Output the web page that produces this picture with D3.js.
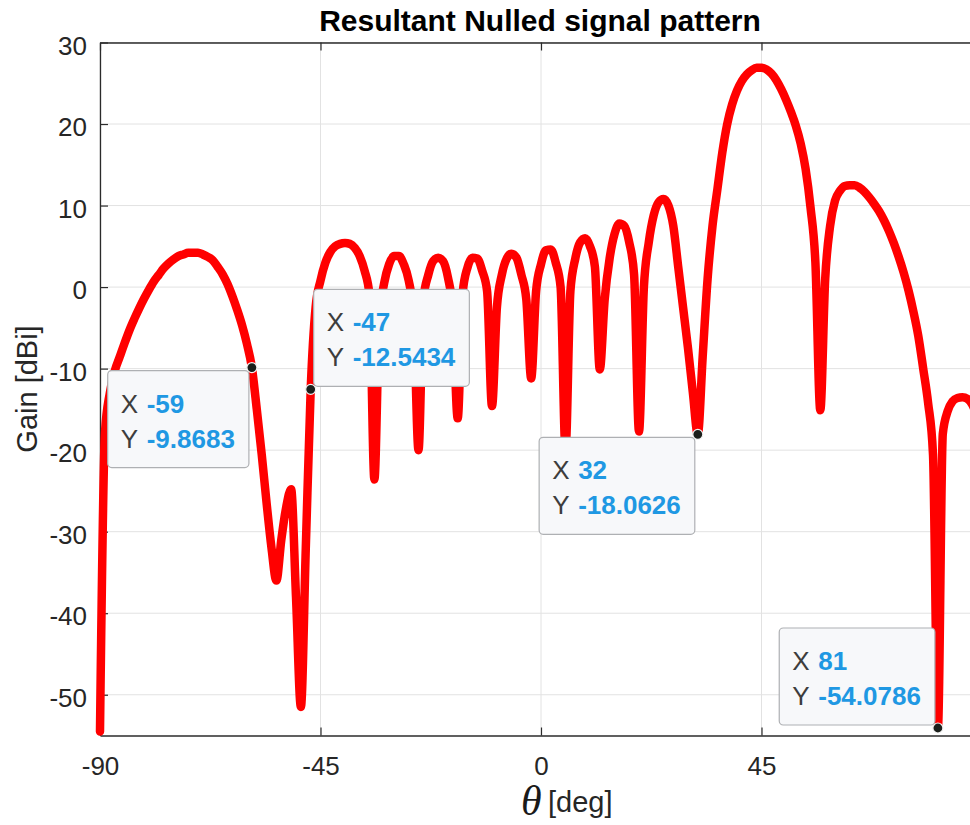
<!DOCTYPE html>
<html>
<head>
<meta charset="utf-8">
<script src="https://cdn.jsdelivr.net/npm/d3@7"></script>
<style>
    body { margin: 0; background: #fff; overflow: hidden; }
    #chart { width: 970px; height: 825px; overflow: hidden; }
    text { font-family: "Liberation Sans", Arial, Helvetica, sans-serif; }
</style>
</head>
<body>
<div id="chart"></div>
<script>
// Angles in degrees, one sample per degree
const thetaDeg = d3.range(-90, 91);

// Gain [dBi], -90 .. 90
const gainDb = [
    -54.5, -18, -13, -10.3, -8.6, -6.9, -5.3, -3.9, -2.6, -1.4,
    -0.3, 0.7, 1.5, 2.3, 2.9, 3.4, 3.8, 4.0, 4.2, 4.2,
    4.2, 4.0, 3.7, 3.3, 2.5, 1.6, 0.4, -1.1, -2.8, -4.7,
    -7.0, -9.8683, -15, -20.5, -26.5, -32, -36, -31, -27, -24.8,
    -38, -51.5, -32, -12.5434, -2.5, 0.8, 3.0, 4.3, 5.0, 5.3,
    5.4, 5.3, 4.8, 3.8, 2.0, -1.0, -23.6, -4, 0.5, 2.8,
    3.8, 3.8, 2.8, 0.8, -3.5, -20, -1.5, 1.5, 3.2, 3.6,
    3.2, 1.2, -3, -16.1, -0.8, 2.4, 3.6, 3.5, 2.0, -0.5,
    -14.6, -2.5, 1.5, 3.5, 4.1, 3.6, 1.5, -1.5, -11.2, -0.5,
    2.8, 4.5, 4.6, 3.0, 0.0, -20, -0.5, 3.5, 5.5, 6.0,
    5.0, 2.5, -10.1, -1.5, 3.5, 6.5, 7.8, 7.5, 5.5, 1.5,
    -17.7, 0.0, 5.5, 8.8, 10.4, 10.8, 10.0, 7.5, 2.5, -2.5,
    -7.5, -13, -18.0626, -8.5, 1.0, 7.5, 12, 16.5, 20, 22.4,
    24.1, 25.3, 26.1, 26.6, 26.9, 26.9, 26.7, 26.2, 25.4, 24.3,
    23.0, 21.5, 19.8, 17.6, 14.5, 9.8, 3.0, -15.1, 1.0, 7.5,
    10.6, 11.8, 12.4, 12.5, 12.5, 12.2, 11.7, 11.0, 10.2, 9.3,
    8.2, 6.9, 5.4, 3.7, 1.8, -0.4, -3.0, -6.0, -10.0, -14.2,
    -20.5, -54.0786, -18, -15.2, -14.0, -13.6, -13.5, -13.7, -14.4, -16,
    -19
];

// Axis ticks
const xTicks = [-90, -45, 0, 45];
const yTicks = [30, 20, 10, 0, -10, -20, -30, -40, -50];

// Data tips shown on the plot
const tipX = [-59, -47, 32, 81];
const tipY = ['-9.8683', '-12.5434', '-18.0626', '-54.0786'];

function drawPattern() {
    const width = 990;
    const height = 825;

    d3.select('#chart').selectAll('*').remove();

    const svg = d3.select('#chart')
        .append('svg')
        .attr('width', width)
        .attr('height', height);

    const x = d3.scaleLinear().domain([-90, 90]).range([100, 982]);
    const y = d3.scaleLinear().domain([-55, 30]).range([735.5, 42.5]);

    // Grid
    svg.append('g')
        .selectAll('line')
        .data(yTicks)
        .join('line')
        .attr('x1', x(-90)).attr('x2', x(90))
        .attr('y1', d => y(d)).attr('y2', d => y(d))
        .attr('stroke', '#e2e2e2')
        .attr('stroke-width', 1);

    svg.append('g')
        .selectAll('line')
        .data(xTicks.concat([90]))
        .join('line')
        .attr('x1', d => x(d)).attr('x2', d => x(d))
        .attr('y1', y(30)).attr('y2', y(-55))
        .attr('stroke', '#e2e2e2')
        .attr('stroke-width', 1);

    // Axes, ticks pointing inwards
    const tickFmt = d => String(d);

    const yAxis = svg.append('g')
        .attr('transform', `translate(${x(-90)},0)`)
        .call(d3.axisLeft(y).tickValues(yTicks).tickSizeInner(-8).tickSizeOuter(0)
            .tickPadding(13).tickFormat(tickFmt));

    const xAxis = svg.append('g')
        .attr('transform', `translate(0,${y(-55)})`)
        .call(d3.axisBottom(x).tickValues(xTicks).tickSizeInner(-8).tickSizeOuter(0)
            .tickPadding(21).tickFormat(tickFmt));

    const topAxis = svg.append('g')
        .attr('transform', `translate(0,${y(30)})`)
        .call(d3.axisTop(x).tickValues(xTicks).tickSizeInner(-8).tickSizeOuter(0)
            .tickFormat(''));

    [yAxis, xAxis, topAxis].forEach(g => {
        g.select('.domain').attr('stroke', '#2b2b2b').attr('stroke-width', 1.3);
        g.selectAll('.tick line').attr('stroke', '#2b2b2b').attr('stroke-width', 1.2);
        g.selectAll('.tick text')
            .attr('fill', '#262626')
            .style('font-size', '26px')
            .style('font-family', '"Liberation Sans", Arial, sans-serif');
    });
    yAxis.selectAll('.tick text').attr('dy', '0.45em');

    // Pattern line
    const line = d3.line()
        .x((d, i) => x(thetaDeg[i]))
        .y(d => y(d))
        .curve(d3.curveMonotoneX);

    svg.append('path')
        .datum(gainDb)
        .attr('d', line)
        .attr('fill', 'none')
        .attr('stroke', '#ff0000')
        .attr('stroke-width', 8.5)
        .attr('stroke-linejoin', 'round')
        .attr('stroke-linecap', 'round');

    // Title and labels
    svg.append('text')
        .attr('x', 540)
        .attr('y', 31)
        .attr('text-anchor', 'middle')
        .attr('fill', '#000')
        .style('font-size', '30px')
        .style('font-weight', 'bold')
        .text('Resultant Nulled signal pattern');

    svg.append('text')
        .attr('transform', 'translate(37,389) rotate(-90)')
        .attr('text-anchor', 'middle')
        .attr('fill', '#262626')
        .style('font-size', '29px')
        .text('Gain [dBi]');

    svg.append('text')
        .attr('x', 521)
        .attr('y', 815)
        .attr('fill', '#1a1a1a')
        .style('font-family', '"Liberation Serif", "DejaVu Serif", serif')
        .style('font-style', 'italic')
        .style('font-size', '42px')
        .text('θ');

    svg.append('text')
        .attr('x', 548)
        .attr('y', 812)
        .attr('fill', '#262626')
        .style('font-size', '29px')
        .text('[deg]');

    // Data tips: which side of the point each box sits on
    const tipPlace = ['lowerLeft', 'upperRight', 'lowerLeft', 'upperLeft'];
    const boxH = 97;
    const gap = 3;

    tipX.forEach((tx, k) => {
        const px = x(tx);
        const py = y(+tipY[k]);
        const g = svg.append('g');

        const box = g.append('rect')
            .attr('rx', 4)
            .attr('fill', '#f7f8fa')
            .attr('stroke', '#aeb0b3')
            .attr('stroke-width', 1.2);

        const xLbl = g.append('text').style('font-size', '26px').attr('fill', '#3d3d3d').text('X');
        const xVal = g.append('text').style('font-size', '26px').style('font-weight', 'bold')
            .attr('fill', '#1f98e3').text(String(tx));
        const yLbl = g.append('text').style('font-size', '26px').attr('fill', '#3d3d3d').text('Y');
        const yVal = g.append('text').style('font-size', '26px').style('font-weight', 'bold')
            .attr('fill', '#1f98e3').text(tipY[k]);

        const w = Math.max(xVal.node().getComputedTextLength(), yVal.node().getComputedTextLength());
        const boxW = 39 + w + 14;

        const place = tipPlace[k];
        const left = place.endsWith('Left') ? px - gap - boxW : px + gap;
        const top = place.startsWith('lower') ? py + gap : py - gap - boxH;

        box.attr('x', left).attr('y', top).attr('width', boxW).attr('height', boxH);
        xLbl.attr('x', left + 13).attr('y', top + 42);
        xVal.attr('x', left + 39).attr('y', top + 42);
        yLbl.attr('x', left + 13).attr('y', top + 77);
        yVal.attr('x', left + 39).attr('y', top + 77);

        svg.append('circle')
            .attr('cx', px)
            .attr('cy', py)
            .attr('r', 5)
            .attr('fill', '#1b1f1b')
            .attr('stroke', '#f2f2f2')
            .attr('stroke-width', 1.2);
    });
}

drawPattern();
</script>
</body>
</html>
